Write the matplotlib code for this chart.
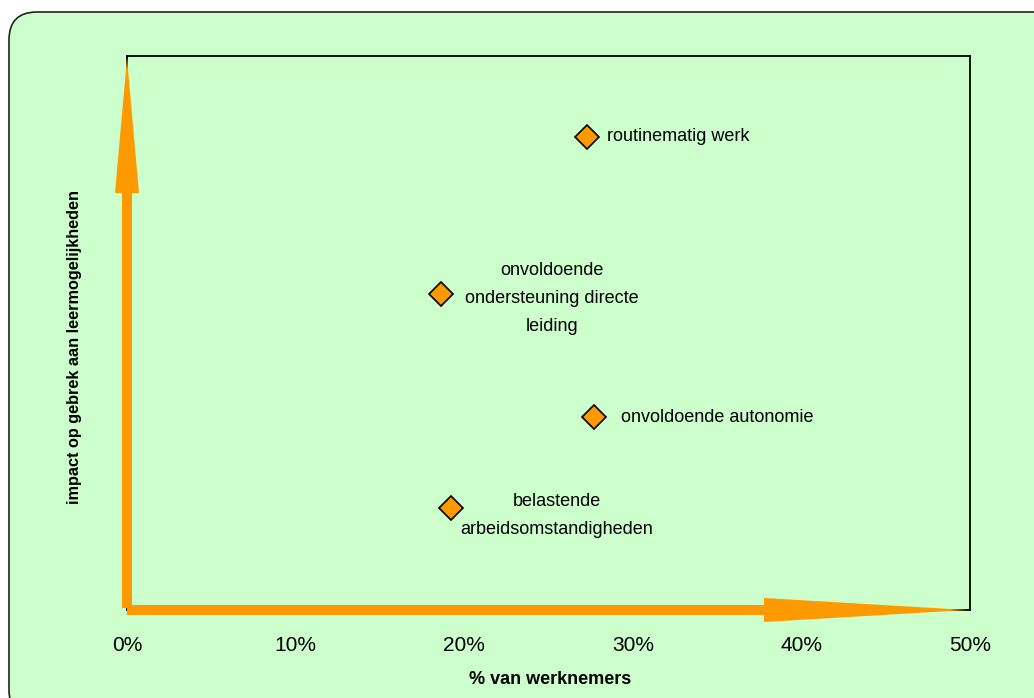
import matplotlib
matplotlib.use("Agg")
import matplotlib.pyplot as plt
from matplotlib.patches import FancyBboxPatch, Polygon
from matplotlib.transforms import IdentityTransform

plt.rcParams['font.family'] = ['Liberation Sans', 'DejaVu Sans']

# data
labels = ["routinematig werk",
          "onvoldoende\nondersteuning directe\nleiding",
          "onvoldoende autonomie",
          "belastende\narbeidsomstandigheden"]
pct = [27.3, 18.6, 27.7, 19.2]
impact = [85.4, 57.0, 34.8, 18.4]
xticks = [0, 10, 20, 30, 40, 50]
xticklabels = ["0%", "10%", "20%", "30%", "40%", "50%"]

W, H = 1034, 698
fig = plt.figure(figsize=(W / 100, H / 100), dpi=100)
fig.patch.set_facecolor("white")

# rounded green background box (pixel coords)
box = FancyBboxPatch((9, -20), 1060, H - 12 + 20,
                     boxstyle="round,pad=0,rounding_size=28",
                     transform=IdentityTransform(), facecolor="#CCFFCC",
                     edgecolor="#222222", linewidth=1.2, zorder=-5)
fig.patches.append(box)

ax = fig.add_axes([127 / W, 1 - 610 / H, (970 - 127) / W, (610 - 56) / H])
ax.set_facecolor("none")
ax.set_xlim(0, 50)
ax.set_ylim(0, 100)
for s in ax.spines.values():
    s.set_color("black")
    s.set_linewidth(1.3)
ax.set_yticks([])
ax.set_xticks(xticks)
ax.set_xticklabels(xticklabels, fontsize=15)
ax.tick_params(axis="x", length=0, pad=19)

ax.plot(pct, impact, linestyle="none", marker="D", markersize=12.5,
        markerfacecolor="#FF9900", markeredgecolor="black",
        markeredgewidth=1.2, zorder=5)

# point labels
ax.annotate(labels[0], (pct[0], impact[0]), xytext=(20, 0), textcoords="offset pixels",
            ha="left", va="center", fontsize=13)
ax.annotate(labels[1], (pct[1], impact[1]), xytext=(111, -4), textcoords="offset pixels",
            ha="center", va="center", fontsize=13, linespacing=1.85)
ax.annotate(labels[2], (pct[2], impact[2]), xytext=(27, 0), textcoords="offset pixels",
            ha="left", va="center", fontsize=13)
ax.annotate(labels[3], (pct[3], impact[3]), xytext=(106, -7), textcoords="offset pixels",
            ha="center", va="center", fontsize=13, linespacing=1.85)

# axis arrows in pixel coords
fig.canvas.draw()
(x0, y0), (x1, y1) = ax.transAxes.transform([(0, 0), (1, 1)])
orange = "#FF9900"
vert = [(x0 - 5, y0 + 2), (x0 + 5, y0 + 2), (x0 + 5, y1 - 137), (x0 + 12, y1 - 137),
        (x0, y1 - 2), (x0 - 12, y1 - 137), (x0 - 5, y1 - 137)]
horiz = [(x0, y0 + 5), (x0 + 637, y0 + 5), (x0 + 637, y0 + 12), (x1 - 3, y0),
         (x0 + 637, y0 - 12), (x0 + 637, y0 - 5), (x0, y0 - 5)]
for pts in (vert, horiz):
    fig.patches.append(Polygon(pts, closed=True, transform=IdentityTransform(),
                               facecolor=orange, edgecolor="none", zorder=3))

fig.text(550 / W, 1 - 680 / H, "% van werknemers", ha="center", va="center",
         fontsize=13, fontweight="bold")
fig.text(75 / W, 1 - 347 / H, "impact op gebrek aan leermogelijkheden", ha="center",
         va="center", rotation=90, fontsize=11.7, fontweight="bold")

fig.savefig("out.png", dpi=100)
